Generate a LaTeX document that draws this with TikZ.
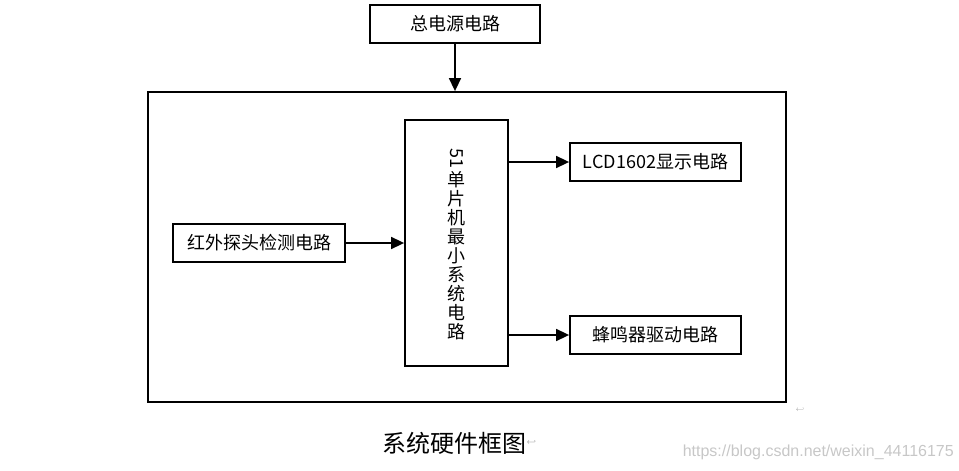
\documentclass[tikz,border=0pt]{standalone}
\usepackage{fontspec}
\usetikzlibrary{arrows.meta,positioning}
\newfontfamily\cjk{Noto Sans CJK SC}
\newfontfamily\wm{Liberation Sans}
\begin{document}
\begin{tikzpicture}[x=1pt,y=-1pt,
  blk/.style={draw=black,line width=1.8pt,fill=white,inner sep=0pt,font=\cjk\fontsize{18}{20}\selectfont},
  arr/.style={line width=1.6pt,-{Triangle[length=13pt,width=12pt]}}]
\useasboundingbox (0,0) rectangle (959,471);
% outer frame
\node[draw=black,line width=1.8pt,minimum width=638pt,minimum height=310pt,inner sep=0pt] (frame) at (467,247) {};
\node[blk,minimum width=170pt,minimum height=38pt] (pwr) at (455,24) {总电源电路};
\node[blk,minimum width=103pt,minimum height=246pt] (mcu) at (456.5,243) {};
\node[font=\cjk\fontsize{18}{19}\selectfont,inner sep=0pt,align=center] (mcut) at (456.5,244)
  {\rotatebox[origin=c]{-90}{51}\\[3pt]单\\片\\机\\最\\小\\系\\统\\电\\路};
\node[blk,minimum width=172pt,minimum height=38pt] (ir) at (259,243) {红外探头检测电路};
\node[blk,minimum width=171pt,minimum height=38pt] (lcd) at (655.5,162) {LCD1602显示电路};
\node[blk,minimum width=171pt,minimum height=38pt] (bz) at (655.5,335) {蜂鸣器驱动电路};
\draw[arr] (pwr.south) -- (frame.north -| pwr.south);
\draw[arr] (ir.east) -- (mcu.west |- ir.east);
\draw[arr] (mcu.east |- lcd.west) -- (lcd.west);
\draw[arr] (mcu.east |- bz.west) -- (bz.west);
\node[font=\cjk\fontsize{24}{26}\selectfont,inner sep=0pt,anchor=west] (cap) at (382,443) {系统硬件框图};
\node[font=\fontsize{8}{9}\selectfont,text=gray,inner sep=0pt,anchor=west] (ret1) at (cap.east) {$\hookleftarrow$};
\node[font=\fontsize{7}{8}\selectfont,text=gray!80,inner sep=0pt] (ret2) at (800,410) {$\hookleftarrow$};
\node[font=\wm\fontsize{16}{18}\selectfont,text=black!22,inner sep=0pt,anchor=east] (wmk) at (954,452) {https://blog.csdn.net/weixin\_44116175};
\end{tikzpicture}
\end{document}
